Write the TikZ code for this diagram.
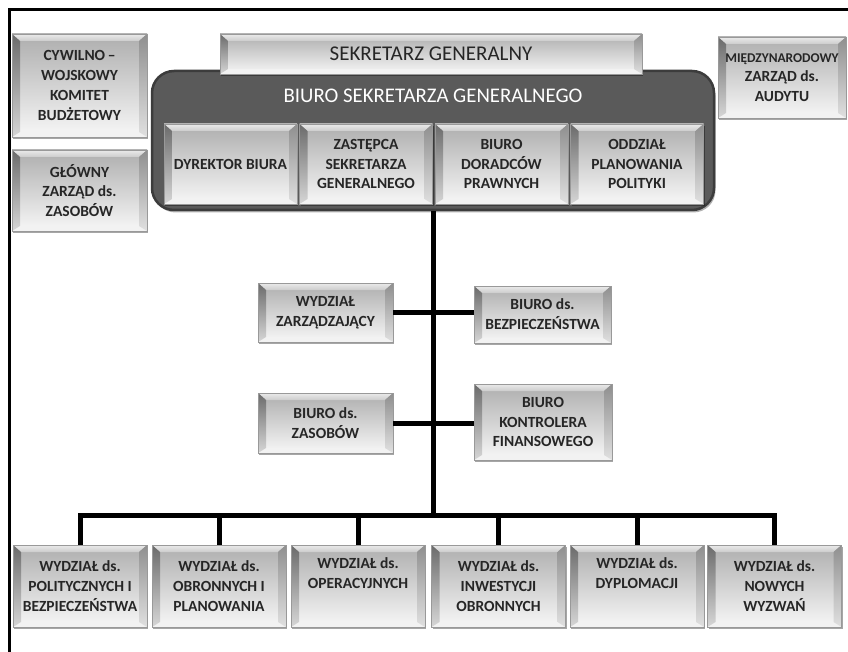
\documentclass[tikz,border=0pt]{standalone}
\usepackage{fontspec}
\setmainfont{Carlito}
\usetikzlibrary{calc,shadows}
\definecolor{txt}{HTML}{262626}
\definecolor{darkpanel}{HTML}{5A5A5A}
\definecolor{darkedge}{HTML}{3C3C3C}
\newcommand{\boxfont}{\fontsize{15.5}{19.8}\selectfont\bfseries}
\tikzset{
  conn/.style={line width=5pt, black},
  bev/.style={rectangle, inner sep=0pt, align=center, font=\boxfont, text=txt,
    top color=black!32, bottom color=black!3, draw=black!40, line width=0.6pt,
    drop shadow={shadow xshift=1.2pt, shadow yshift=-2.4pt, opacity=.35, fill=black},
    path picture={
      \coordinate (nw) at (path picture bounding box.north west);
      \coordinate (ne) at (path picture bounding box.north east);
      \coordinate (sw) at (path picture bounding box.south west);
      \coordinate (se) at (path picture bounding box.south east);
      % top bevel
      \shade[top color=black!8, bottom color=black!20]
        (nw) -- (ne) -- ($(ne)+(-8,-7)$) -- ($(nw)+(8,-7)$) -- cycle;
      % bottom bevel
      \fill[black!5] (sw) -- (se) -- ($(se)+(-8,5)$) -- ($(sw)+(8,5)$) -- cycle;
      % left bevel
      \shade[top color=black!58, bottom color=black!16]
        (nw) -- ($(nw)+(8,-7)$) -- ($(sw)+(8,5)$) -- (sw) -- cycle;
      % right bevel
      \shade[top color=black!44, bottom color=black!12]
        (ne) -- ($(ne)+(-8,-7)$) -- ($(se)+(-8,5)$) -- (se) -- cycle;
    }},
}
\begin{document}
\begin{tikzpicture}[x=1pt,y=1pt]
\useasboundingbox[fill=white] (0,0) rectangle (848,-652);
% outer frame
\draw[line width=3pt] (9.5,-652) -- (9.5,-9.5) -- (848,-9.5);

% left-hand committees
\node[bev, minimum width=135, minimum height=103] (cw) at (79.5,-85.5)
  {CYWILNO\,–\\WOJSKOWY\\KOMITET\\BUDŻETOWY};
\node[bev, minimum width=135, minimum height=81] (gz) at (79.5,-190.5)
  {GŁÓWNY\\ZARZĄD ds.\\ZASOBÓW};
% audit board
\node[bev, minimum width=128, minimum height=81] (mz) at (782,-77.5)
  {{\fontsize{13.4}{19.8}\selectfont MIĘDZYNARODOWY}\\ZARZĄD ds.\\AUDYTU};

% private office panel
\node[rectangle, rounded corners=22pt, fill=darkpanel, draw=darkedge, line width=2.5pt,
  minimum width=562, minimum height=139,
  drop shadow={shadow xshift=1.5pt, shadow yshift=-2.5pt, opacity=.3, fill=black}]
  (bs) at (433,-140.5) {};
\node[text=white, font=\fontsize{20.8}{24}\selectfont] (bst) at (433,-96)
  {BIURO SEKRETARZA GENERALNEGO};
\node[bev, minimum width=422, minimum height=40,
  font=\fontsize{21}{24}\selectfont] (sg) at (431,-54) {SEKRETARZ GENERALNY};

\node[bev, minimum width=133, minimum height=80] (p1) at (230.5,-164) {DYREKTOR BIURA};
\node[bev, minimum width=133, minimum height=80] (p2) at (366,-164)
  {ZASTĘPCA\\SEKRETARZA\\GENERALNEGO};
\node[bev, minimum width=133, minimum height=80] (p3) at (501.5,-164)
  {BIURO\\DORADCÓW\\PRAWNYCH};
\node[bev, minimum width=133, minimum height=80] (p4) at (637,-164)
  {ODDZIAŁ\\PLANOWANIA\\POLITYKI};

% middle offices
\node[bev, minimum width=135, minimum height=59] (wz) at (325.5,-312.5)
  {WYDZIAŁ\\ZARZĄDZAJĄCY};
\node[bev, minimum width=137, minimum height=57] (bb) at (542.5,-314.5)
  {BIURO ds.\\BEZPIECZEŃSTWA};
\node[bev, minimum width=135, minimum height=60] (bz) at (325.5,-423)
  {BIURO ds.\\ZASOBÓW};
\node[bev, minimum width=138, minimum height=76] (bk) at (543,-422)
  {BIURO\\KONTROLERA\\FINANSOWEGO};

% divisions
\node[bev, minimum width=134, minimum height=82] (d1) at (80,-586)
  {WYDZIAŁ ds.\\POLITYCZNYCH I\\BEZPIECZEŃSTWA};
\node[bev, minimum width=134, minimum height=82] (d2) at (219,-586)
  {WYDZIAŁ ds.\\OBRONNYCH I\\PLANOWANIA};
\node[bev, minimum width=134, minimum height=82] (d3) at (358,-586)
  {WYDZIAŁ ds.\\OPERACYJNYCH\\\strut};
\node[bev, minimum width=134, minimum height=82] (d4) at (498.5,-586)
  {WYDZIAŁ ds.\\INWESTYCJI\\OBRONNYCH};
\node[bev, minimum width=134, minimum height=82] (d5) at (637,-586)
  {WYDZIAŁ ds.\\DYPLOMACJI\\\strut};
\node[bev, minimum width=134, minimum height=82] (d6) at (774.5,-586)
  {WYDZIAŁ ds.\\NOWYCH\\WYZWAŃ};

% connectors
\coordinate (bus) at (433,-515);
\draw[conn] (bs.south) -- (bus);
\draw[conn] (wz.east) -- (wz.east -| bb.west);
\draw[conn] (bz.east) -- (bz.east -| bk.west);
\draw[conn] (d1.north) |- (bus) -| (d6.north);
\foreach \d in {d2,d3,d4,d5}
  \draw[conn] (\d.north) -- (\d.north |- bus);
\end{tikzpicture}
\end{document}
